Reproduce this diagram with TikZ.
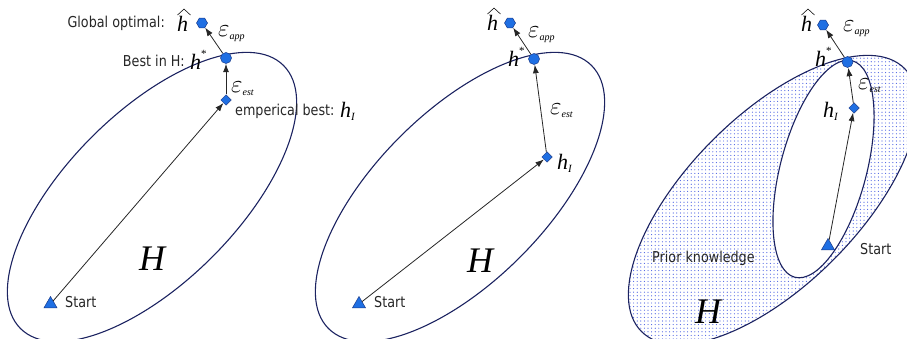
\documentclass[tikz,border=0pt]{standalone}
\usepackage{fontspec}
\setmainfont{Liberation Serif}
\newfontfamily\labfont[FakeStretch=0.85]{DejaVu Sans}
\usetikzlibrary{shapes.geometric,arrows.meta,patterns.meta}
\definecolor{navy}{HTML}{1C2361}
\definecolor{mblue}{HTML}{1F6FE3}
\definecolor{mline}{HTML}{1A3A8A}
\definecolor{dotc}{HTML}{4A60E2}
\newcommand{\fsz}[1]{\fontsize{#1}{#1}\selectfont}
\newcommand{\hsym}{{\fsz{22}\itshape h}}
\newcommand{\hstar}{\hsym\raisebox{12pt}{\fsz{11}*}}
\newcommand{\hsub}{\hsym\raisebox{-3pt}{\fsz{11}\itshape I}}
\newcommand{\epsl}[1]{{\fsz{33}$\varepsilon$}\raisebox{-3pt}{\fsz{10}\itshape #1}}
\begin{document}
\begin{tikzpicture}[x=1pt,y=-1pt,
  hull/.style={draw=navy, line width=1.1pt},
  mk/.style={fill=mblue, draw=mline, line width=0.5pt, inner sep=0pt},
  circmark/.style={mk, circle, minimum size=11pt},
  hexmark/.style={mk, regular polygon, regular polygon sides=6, minimum size=11pt},
  diamark/.style={mk, diamond, minimum size=10.5pt},
  trimark/.style={mk, regular polygon, regular polygon sides=3, minimum size=15pt},
  arr/.style={-{Latex[length=8.5pt,width=6pt]}, line width=0.8pt, black!85},
  lab/.style={font=\labfont\fsz{15}, inner sep=0pt, text=black!85},
  sym/.style={inner sep=0pt},
  hatline/.style={line width=0.55pt, line join=miter, black},
  bigH/.style={font=\fsz{36}\itshape, inner sep=0pt}]
\useasboundingbox (0,0) rectangle (907,339);
\clip (0,0) rectangle (907,339);

% hypothesis spaces
\draw[hull, rotate around={45:(152,197)}] (152,197) ellipse [x radius=186pt, y radius=85pt];
\draw[hull, rotate around={45:(460,197)}] (460,197) ellipse [x radius=186pt, y radius=85pt];
\fill[pattern={Dots[distance=3.6pt, radius=0.6pt]}, pattern color=dotc, rotate around={45:(773,200)}] (773,200) ellipse [x radius=186pt, y radius=85pt];
\draw[hull, rotate around={45:(773,200)}] (773,200) ellipse [x radius=186pt, y radius=85pt];
\filldraw[hull, fill=white, rotate around={75.1:(823.5,169)}] (823.5,169) ellipse [x radius=112pt, y radius=43pt];

% panel 1 labels
\node[lab, anchor=base east] (g1) at (165,28) {Global optimal:};
\node[sym, anchor=base west] (hh1) at (177,32) {\hsym};
\node[sym, anchor=base west] (ea1) at (218,37) {\epsl{app}};
\node[lab, anchor=base east] (b1) at (185,67) {Best in H:};
\node[sym, anchor=base west] (hs1) at (190,70) {\hstar};
\node[sym, anchor=base west] (ee1) at (231,93) {\epsl{est}};
\node[lab, anchor=base west] (e1) at (235,116) {emperical best:};
\node[sym, anchor=base west] (hi1) at (340,118) {\hsub};
\node[bigH, anchor=base west] (H1) at (139,270) {H};
\node[lab, anchor=base west] (st1) at (65,307) {Start};

% panel 2 labels
\node[sym, anchor=base west] (hh2) at (487,31) {\hsym};
\node[sym, anchor=base west] (ea2) at (528,38) {\epsl{app}};
\node[sym, anchor=base west] (hs2) at (508,67) {\hstar};
\node[sym, anchor=base west] (ee2) at (550,115) {\epsl{est}};
\node[sym, anchor=base west] (hi2) at (557,170) {\hsub};
\node[bigH, anchor=base west] (H2) at (467,272) {H};
\node[lab, anchor=base west] (st2) at (374,307) {Start};

% panel 3 labels
\node[sym, anchor=base west] (hh3) at (801,32) {\hsym};
\node[sym, anchor=base west] (ea3) at (843,32) {\epsl{app}};
\node[sym, anchor=base west] (hs3) at (815,67) {\hstar};
\node[sym, anchor=base west] (ee3) at (858,90) {\epsl{est}};
\node[sym, anchor=base west] (hi3) at (823,118) {\hsub};
\node[lab, anchor=base west] (st3) at (860,254) {Start};
\node[lab, anchor=base west] (pk) at (652,262) {Prior knowledge};
\node[bigH, anchor=base west] (H3) at (695,323) {H};

% wide hats over the global optimum
\foreach \n in {hh1,hh2,hh3}{
  \draw[hatline] ([xshift=0.5pt,yshift=1.5pt]\n.north west) -- ([xshift=7pt,yshift=7.5pt]\n.north west) -- ([xshift=13.5pt,yshift=1.5pt]\n.north west);
}

% markers
\node[trimark] (s1) at (50.5,304) {};
\node[diamark] (d1) at (226,100) {};
\node[circmark] (c1) at (226,58) {};
\node[hexmark] (x1) at (202,23) {};
\node[trimark] (s2) at (359,304) {};
\node[diamark] (d2) at (547,157) {};
\node[circmark] (c2) at (534,59) {};
\node[hexmark] (x2) at (510,23) {};
\node[trimark] (s3) at (828,246) {};
\node[diamark] (d3) at (854,108) {};
\node[circmark] (c3) at (847.5,62) {};
\node[hexmark] (x3) at (823,25) {};

% arrows
\draw[arr] (s1) -- (d1);
\draw[arr] (d1) -- (c1);
\draw[arr] (c1) -- (x1);
\draw[arr] (s2) -- (d2);
\draw[arr] (d2) -- (c2);
\draw[arr] (c2) -- (x2);
\draw[arr] (s3) -- (d3);
\draw[arr] (d3) -- (c3);
\draw[arr] (c3) -- (x3);
\end{tikzpicture}
\end{document}
